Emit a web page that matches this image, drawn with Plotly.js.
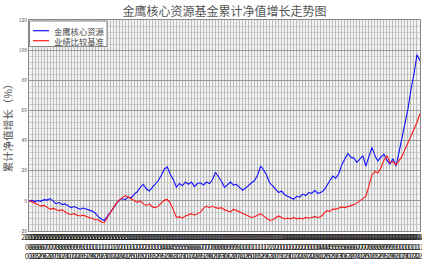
<!DOCTYPE html>
<html><head><meta charset="utf-8">
<script src="https://cdn.plot.ly/plotly-3.0.1.min.js"></script>
<style>html,body{margin:0;padding:0;background:#fff}#c{width:422px;height:262px}</style>
</head><body><div id="c"></div>
<script>
const dates = [
"2012-06-01","2012-06-08","2012-06-15","2012-06-22","2012-06-29","2012-07-06","2012-07-13","2012-07-20","2012-07-27","2012-08-03",
"2012-08-10","2012-08-17","2012-08-24","2012-08-31","2012-09-07","2012-09-14","2012-09-21","2012-09-28","2012-10-05","2012-10-12",
"2012-10-19","2012-10-26","2012-11-02","2012-11-09","2012-11-16","2012-11-23","2012-11-30","2012-12-07","2012-12-14","2012-12-21",
"2012-12-28","2013-01-04","2013-01-11","2013-01-18","2013-01-25","2013-02-01","2013-02-08","2013-02-15","2013-02-22","2013-03-01",
"2013-03-08","2013-03-15","2013-03-22","2013-03-29","2013-04-05","2013-04-12","2013-04-19","2013-04-26","2013-05-03","2013-05-10",
"2013-05-17","2013-05-24","2013-05-31","2013-06-07","2013-06-14","2013-06-21","2013-06-28","2013-07-05","2013-07-12","2013-07-19",
"2013-07-26","2013-08-02","2013-08-09","2013-08-16","2013-08-23","2013-08-30","2013-09-06","2013-09-13","2013-09-20","2013-09-27",
"2013-10-04","2013-10-11","2013-10-18","2013-10-25","2013-11-01","2013-11-08","2013-11-15","2013-11-22","2013-11-29","2013-12-06",
"2013-12-13","2013-12-20","2013-12-27","2014-01-03","2014-01-10","2014-01-17","2014-01-24","2014-01-31","2014-02-07","2014-02-14",
"2014-02-21","2014-02-28","2014-03-07","2014-03-14","2014-03-21","2014-03-28","2014-04-04","2014-04-11","2014-04-18","2014-04-25",
"2014-05-02","2014-05-09","2014-05-16","2014-05-23","2014-05-30","2014-06-06","2014-06-13","2014-06-20","2014-06-27","2014-07-04",
"2014-07-11","2014-07-18","2014-07-25","2014-08-01","2014-08-08","2014-08-15","2014-08-22","2014-08-29","2014-09-05","2014-09-12",
"2014-09-19","2014-09-26","2014-10-03","2014-10-10","2014-10-17","2014-10-24","2014-10-31","2014-11-07","2014-11-14","2014-11-21",
"2014-11-28"
];
const fundGrowth = [
0,0.3,-0.5,0.2,-0.3,0.8,0.5,1.5,0,-2,
-1,-2.5,-2,-3.5,-4.5,-3.8,-4.5,-5.5,-4.8,-5.5,
-6,-6.8,-8,-10.5,-12,-13,-10.5,-8,-5,-2,
0.5,1.5,0.8,2.5,2,4.5,6,9,11,8,
6.5,9,11.5,13.5,17,21,22.5,17.5,14,9,
11.5,10,12.5,11,12.5,9.5,11.5,12,10.5,12.5,
11.5,14,19,16,13,9,11,12.5,10.5,11,
9,7,8.5,10.5,12,13.5,17,23,20.5,17,
12,10,7.5,5.5,6.5,4,3,2,1,3,
2.5,4.5,3.5,5.5,5,7,5,5.5,7,10,
13.5,16.5,15,18,24,28,31.5,29,28.5,25.5,
28,30,23,30,35.5,30,26.5,29,31,27,
24.5,28,23,32,42,53,61,74,84,97,
93
];
const benchmark = [
0,-0.5,-1.5,-2.5,-3.5,-3,-4.5,-5.5,-5,-6,
-6.5,-6,-7.5,-8.5,-9,-8.5,-9.5,-10,-9.5,-10.5,
-11,-11.5,-12.5,-12.5,-14,-14.5,-11,-8,-4.5,-1.5,
0.5,2,3.5,2.5,1.5,0,-1,0,-2,-3,
-2,-4,-4.5,-3.5,-1.5,0.5,1,-1.5,-6,-11,
-10.5,-11.5,-10,-9.5,-8.5,-9.5,-8.5,-7.5,-5,-3.5,
-4.5,-3.5,-4.5,-5,-4.5,-6,-6.5,-7.5,-5.5,-6.5,
-7.5,-8.5,-9,-10,-11,-10.5,-9.5,-8.5,-10,-11.5,
-13,-12.5,-11,-10,-11,-12,-11.5,-12,-11,-12,
-11.5,-12,-11,-11.5,-11,-10.5,-11,-10.5,-8.5,-6.5,
-7,-5.5,-5.5,-4.5,-4,-4.5,-4,-3,-2.5,-1.5,
0,1,3,10,17,19.5,18.5,22,27,30,
25.5,26,24,26.5,29.5,34,39,43,47.5,52,
58
];
const yTicks = [-20,0,20,40,60,80,100,120];
const seriesNames = ["金鹰核心资源","业绩比较基准"];
const seriesColors = ['#1010ff', '#ff1a1a'];

const tickText = dates.map(d => d.replace(/-/g,"<br>"));
const cjk = '"Noto Sans CJK SC", "Noto Sans", sans-serif';

const traces = [
  {x: dates, y: fundGrowth, name: seriesNames[0], type: 'scatter', mode: 'lines',
   line: {color: seriesColors[0], width: 1.1}},
  {x: dates, y: benchmark, name: seriesNames[1], type: 'scatter', mode: 'lines',
   line: {color: seriesColors[1], width: 1.1}}
];

// hand-drawn legend box (paper pixel placement)
const W = 422, H = 262, ml = 29, mr = 2, mt = 20, mb = 31;
const pw = W - ml - mr, ph = H - mt - mb;
const px = v => (v - ml) / pw;
const py = v => 1 - (v - mt) / ph;
const shapes = [
  {type: 'rect', xref: 'paper', yref: 'paper', x0: px(29.5), x1: px(107), y0: py(46.5), y1: py(21),
   fillcolor: '#ffffff', line: {color: '#8a8a8a', width: 1}, layer: 'above'},
  {type: 'line', xref: 'paper', yref: 'paper', x0: px(33), x1: px(49), y0: py(30.7), y1: py(30.7),
   line: {color: seriesColors[0], width: 1.2}, layer: 'above'},
  {type: 'line', xref: 'paper', yref: 'paper', x0: px(33), x1: px(49), y0: py(40.7), y1: py(40.7),
   line: {color: seriesColors[1], width: 1.2}, layer: 'above'}
];
const annotations = [
  {xref: 'paper', yref: 'paper', x: px(52), y: py(30.7), xanchor: 'left', yanchor: 'middle', showarrow: false,
   text: seriesNames[0], font: {size: 8.3, color: '#444444', family: cjk}},
  {xref: 'paper', yref: 'paper', x: px(52), y: py(40.7), xanchor: 'left', yanchor: 'middle', showarrow: false,
   text: seriesNames[1], font: {size: 8.3, color: '#444444', family: cjk}}
];

const layout = {
  width: W, height: H,
  margin: {l: ml, r: mr, t: mt, b: mb, pad: 0},
  paper_bgcolor: '#ffffff', plot_bgcolor: '#f3f3f3',
  font: {family: cjk},
  title: {text: '金鹰核心资源基金累计净值增长走势图', xref: 'paper', x: 0.5, xanchor: 'center',
          yref: 'container', y: 1 - 12 / H, yanchor: 'middle',
          font: {size: 12, color: '#555555', family: cjk}},
  showlegend: false,
  shapes: shapes, annotations: annotations,
  xaxis: {type: 'category', range: [0, dates.length - 1], tickmode: 'array', tickvals: dates, ticktext: tickText,
          tickangle: 0, tickfont: {size: 7, color: '#1a1a1a'}, showgrid: true, gridcolor: '#bdbdbd', gridwidth: 1,
          ticks: '', showline: true, linecolor: '#888888', mirror: true, zeroline: false, automargin: false},
  yaxis: {range: [-20, 120], tickmode: 'array', tickvals: yTicks, ticktext: yTicks.map(String),
          tickfont: {size: 5, color: '#555555'}, showgrid: true, gridcolor: '#999999', gridwidth: 1,
          minor: {dtick: 4, showgrid: true, gridcolor: '#cfcfcf', gridwidth: 1},
          ticks: '', showline: true, linecolor: '#888888', mirror: true, zeroline: false, automargin: false,
          title: {text: '累计净值增长（%）', standoff: 6, font: {size: 10.5, color: '#555555', family: cjk}}}
};
Plotly.newPlot('c', traces, layout, {displayModeBar: false, staticPlot: true});
</script></body></html>
